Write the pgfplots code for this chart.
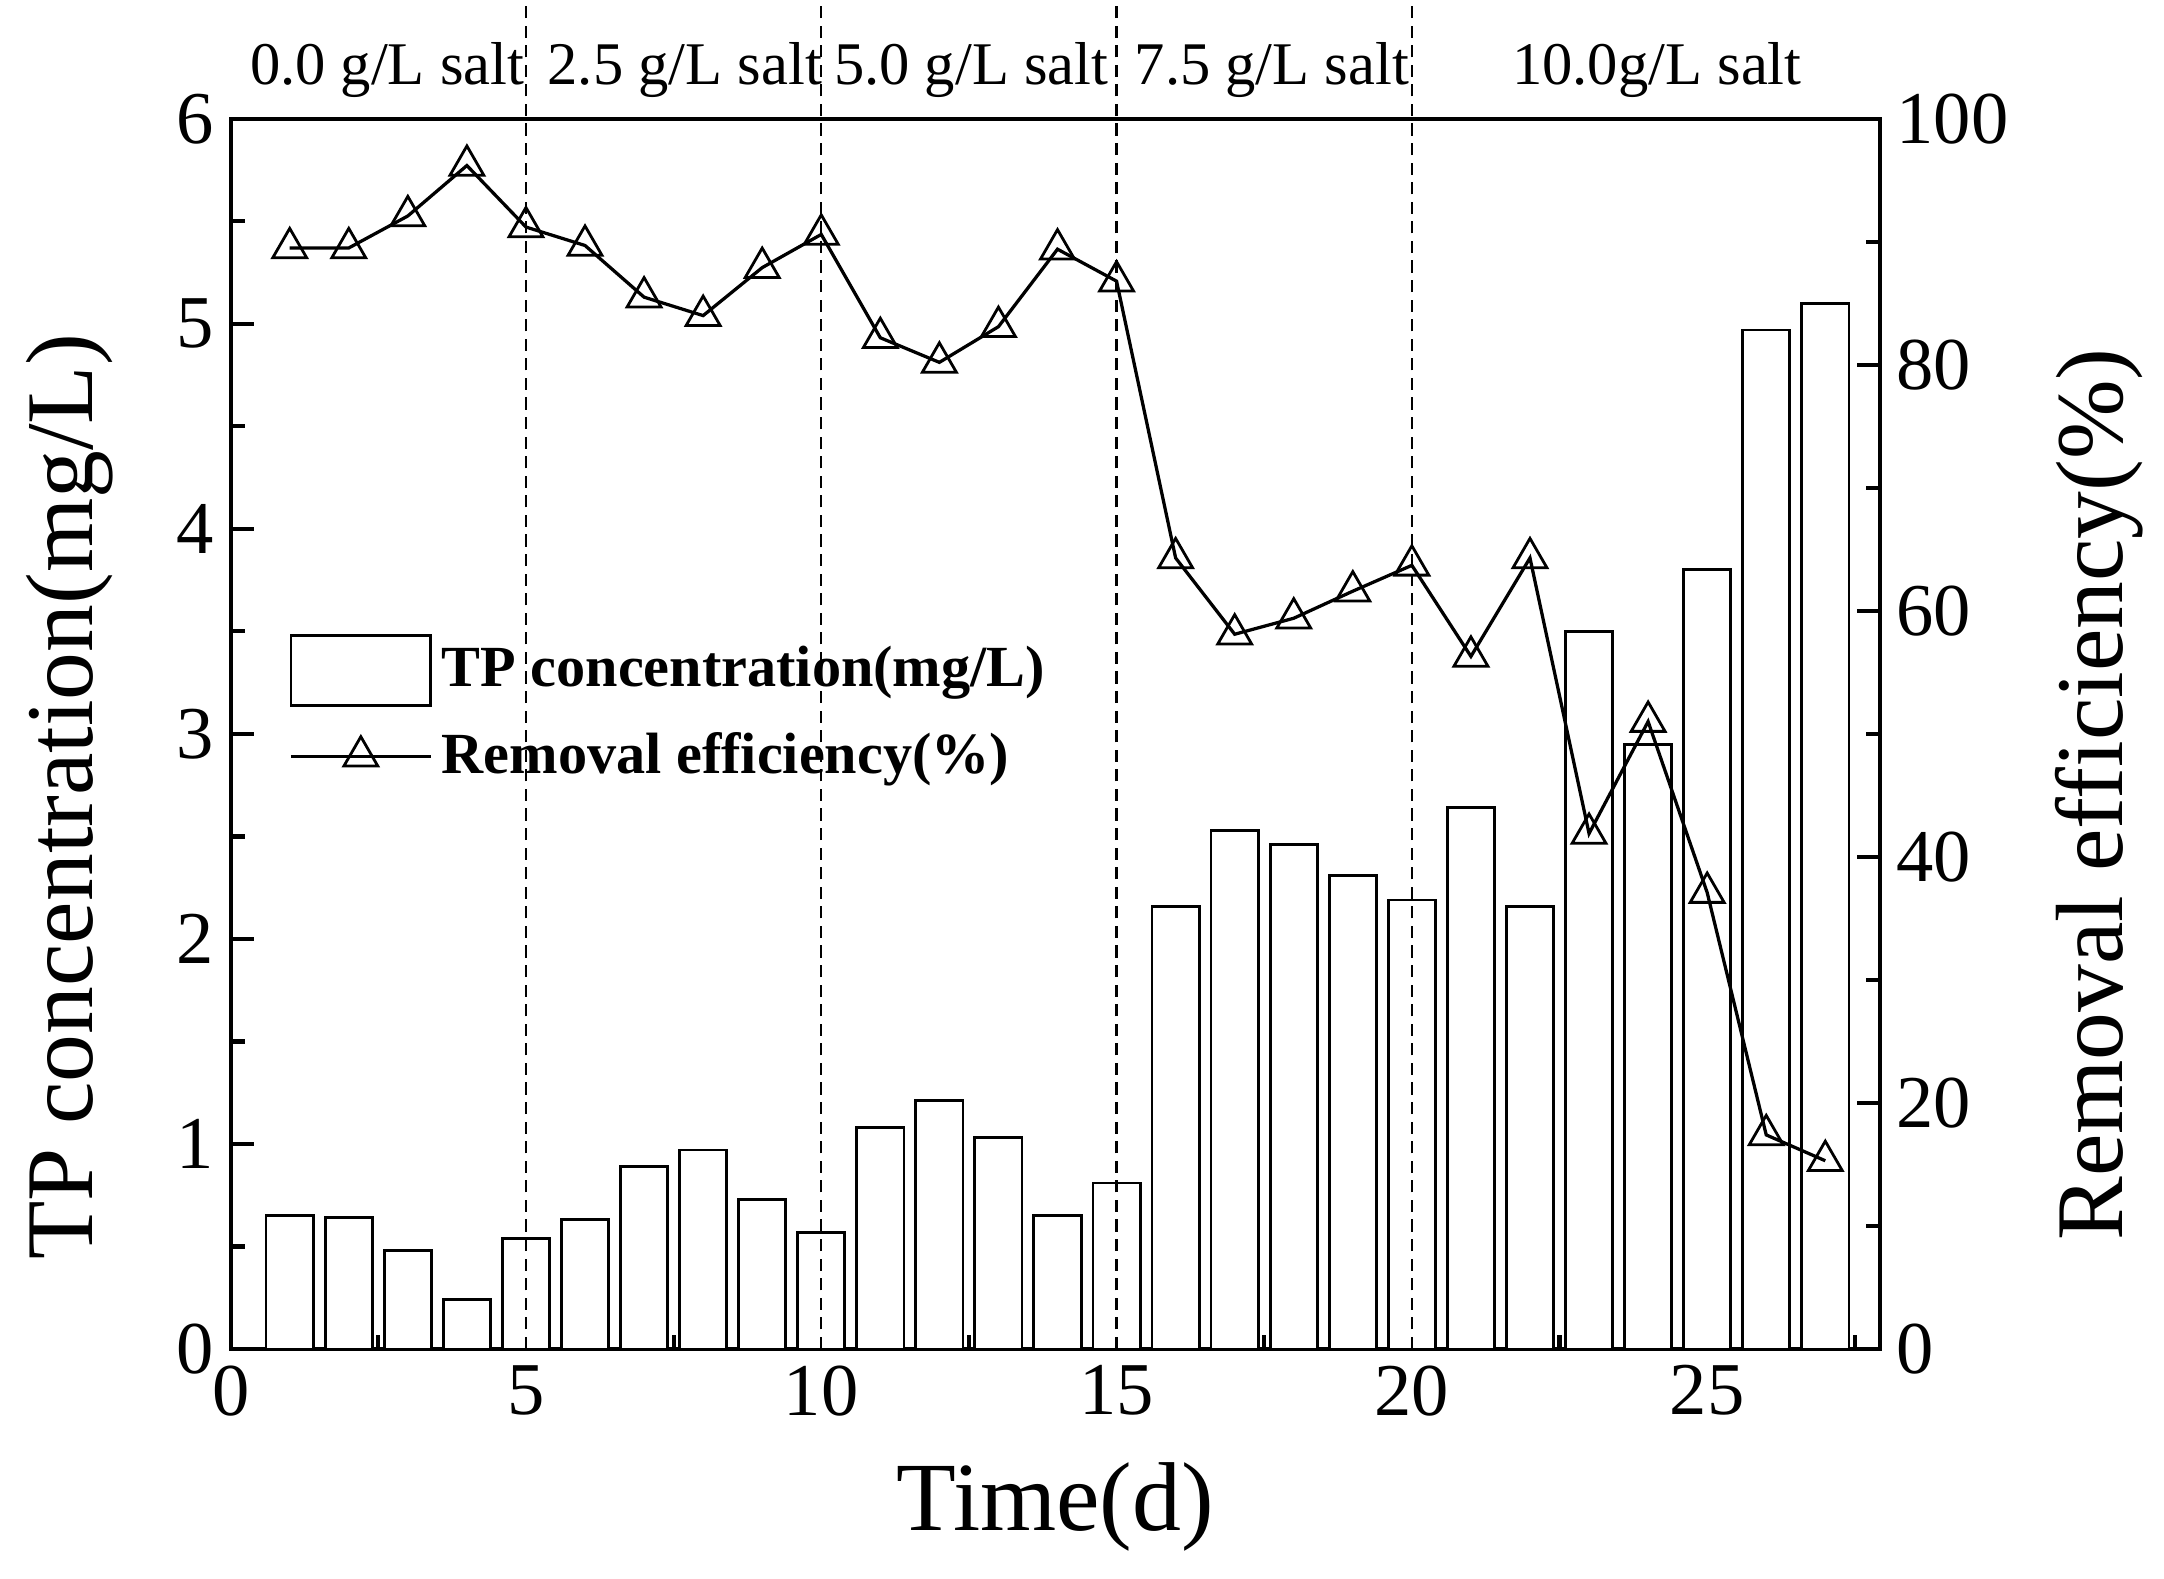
\documentclass[border=0pt]{standalone}
\usepackage{pgfplots}
\pgfplotsset{compat=1.18}
\usepackage{fontspec}
\setmainfont{Liberation Serif}
\usetikzlibrary{calc}

\pgfplotsset{
  barleg/.style={legend image code/.code={\draw[##1] (0pt,-7.5pt) rectangle (30pt,7.5pt);}},
  lineleg/.style={legend image code/.code={
    \draw[##1] (0pt,0pt) -- (30pt,0pt);
    \draw[##1] plot coordinates {(15pt,0pt)};}},
}

\pgfplotstableread{
x tp
1 0.65
2 0.64
3 0.48
4 0.24
5 0.54
6 0.63
7 0.89
8 0.97
9 0.73
10 0.57
11 1.08
12 1.21
13 1.03
14 0.65
15 0.81
16 2.16
17 2.53
18 2.46
19 2.31
20 2.19
21 2.64
22 2.16
23 3.50
24 2.95
25 3.80
26 4.97
27 5.10
}\tpdata

\pgfplotstableread{
x re
1 89.5
2 89.5
3 92.1
4 96.2
5 91.2
6 89.7
7 85.5
8 84.0
9 87.9
10 90.6
11 82.2
12 80.2
13 83.1
14 89.4
15 86.8
16 64.3
17 58.1
18 59.4
19 61.6
20 63.7
21 56.3
22 64.3
23 41.9
24 51.0
25 37.1
26 17.4
27 15.3
}\redata

\begin{document}
\begin{tikzpicture}
\pgfplotsset{
  every axis/.append style={
    scale only axis,
    width=354pt, height=264pt,
    xmin=0, xmax=27.93,
    axis line style={line width=0.9pt},
    every tick/.style={line width=0.9pt, black},
    tick align=inside,
    major tick length=5pt,
    minor tick length=3pt,
    tick label style={font=\fontsize{16}{18}\selectfont},
    /pgf/number format/assume math mode=true,
  },
}
\begin{axis}[
  name=main,
  ymin=0, ymax=6,
  xtick={0,5,10,15,20,25},
  minor xtick={2.5,7.5,12.5,17.5,22.5,27.5},
  ytick={0,1,2,3,4,5,6},
  minor ytick={0.5,1.5,2.5,3.5,4.5,5.5},
  xtick pos=bottom,
  ytick pos=left,
  xlabel={Time(d)},
  ylabel={TP concentration(mg/L)},
  xlabel style={font=\fontsize{21}{24}\selectfont, at={(axis description cs:0.5,0)}, anchor=center, yshift=-34pt},
  ylabel style={font=\fontsize{20.5}{24}\selectfont, at={(axis description cs:0,0.5)}, anchor=center, yshift=34.5pt, xshift=-13.5pt},
  clip=false,
]
\addplot[ybar, bar width=0.8, draw=black, fill=white, line width=0.6pt] table[x=x, y=tp] {\tpdata};
\draw[line width=0.5pt, dash pattern=on 2.6pt off 1.6pt] (axis cs:5,0) -- (axis cs:5,6.58);
\draw[line width=0.5pt, dash pattern=on 2.6pt off 1.6pt] (axis cs:10,0) -- (axis cs:10,6.58);
\draw[line width=0.5pt, dash pattern=on 2.6pt off 1.6pt] (axis cs:15,0) -- (axis cs:15,6.58);
\draw[line width=0.5pt, dash pattern=on 2.6pt off 1.6pt] (axis cs:20,0) -- (axis cs:20,6.58);
\node[font=\fontsize{13}{15}\selectfont] at (axis cs:2.65,6.24) {0.0 g/L salt};
\node[font=\fontsize{13}{15}\selectfont] at (axis cs:7.69,6.24) {2.5 g/L salt};
\node[font=\fontsize{13}{15}\selectfont] at (axis cs:12.54,6.24) {5.0 g/L salt};
\node[font=\fontsize{13}{15}\selectfont] at (axis cs:17.63,6.24) {7.5 g/L salt};
\node[font=\fontsize{13}{15}\selectfont] at (axis cs:24.15,6.24) {10.0g/L salt};
\end{axis}
\begin{axis}[
  ymin=0, ymax=100,
  axis x line=none,
  axis y line*=right,
  ytick={0,20,40,60,80,100},
  minor ytick={10,30,50,70,90},
  ylabel={Removal efficiency(\%)},
  ylabel style={font=\fontsize{20.5}{24}\selectfont, at={(axis description cs:1,0.5)}, anchor=center, yshift=-47pt, xshift=-13pt},
  legend style={draw=none, fill=none, at={(0.035,0.582)}, anchor=north west,
    font=\bfseries\fontsize{12.5}{14}\selectfont, inner sep=0pt,
    row sep=3.5pt, nodes={inner sep=2pt}},
  legend cell align=left,
]
\addlegendimage{draw=black, fill=white, line width=0.6pt, barleg}
\addlegendentry{TP concentration(mg/L)}
\addplot[black, line width=0.7pt, mark=triangle, mark size=4.2pt,
  mark options={fill=white, solid, line width=0.6pt}, lineleg] table[x=x, y=re] {\redata};
\addlegendentry{Removal efficiency(\%)}
\end{axis}
\pgfresetboundingbox
\path[use as bounding box] ($(main.south west)+(-49.5pt,-49.2pt)$) rectangle ($(main.north east)+(60.9pt,25.5pt)$);
\end{tikzpicture}
\end{document}
